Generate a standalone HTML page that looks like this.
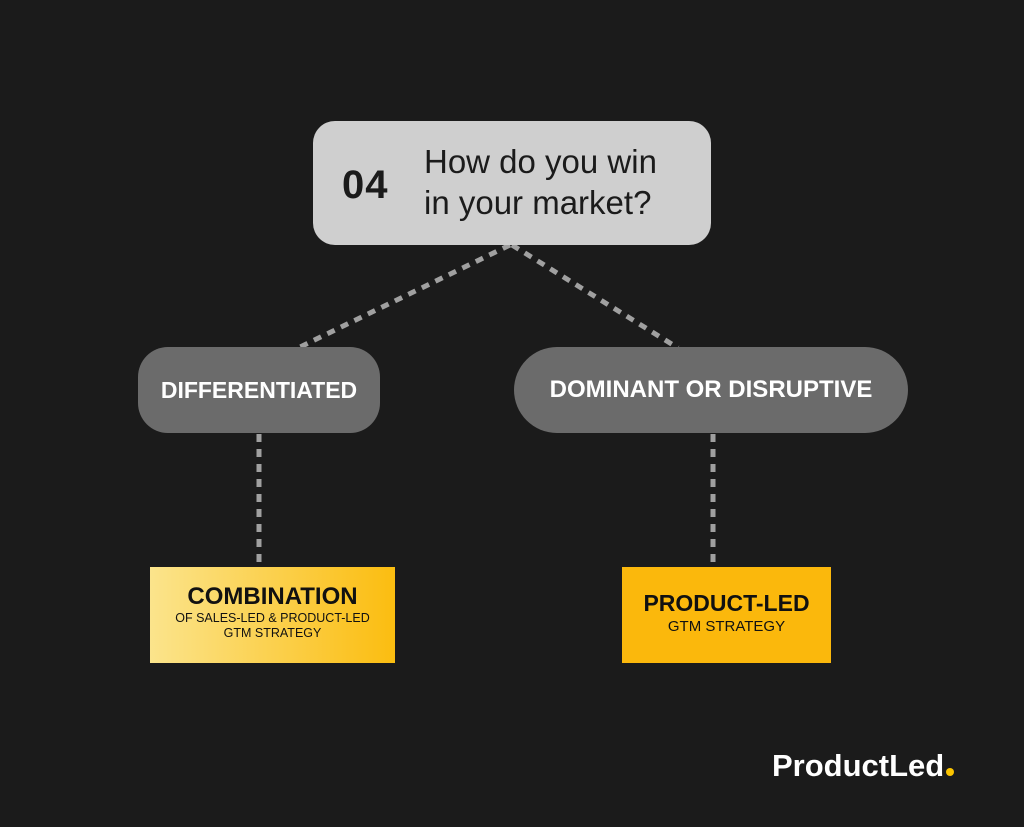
<!DOCTYPE html>
<html><head><style>
body{margin:0;width:1024px;height:827px;background:#1b1b1b;position:relative;overflow:hidden;font-family:"Liberation Sans","DejaVu Sans",sans-serif}
.a{position:absolute;box-sizing:border-box}
</style></head><body>
<svg class="a" style="left:0;top:0" width="1024" height="827">
<g stroke="#a0a0a0" stroke-width="5" stroke-dasharray="8,7" fill="none">
<line x1="510" y1="245" x2="298" y2="348"/>
<line x1="512" y1="245" x2="678" y2="348"/>
<line x1="259" y1="434" x2="259" y2="566"/>
<line x1="713" y1="434" x2="713" y2="566"/>
</g></svg>
<div class="a" style="left:313px;top:121px;width:398px;height:124px;background:#cfcfcf;border-radius:22px"></div>
<div class="a" style="left:342px;top:163px;font-size:40px;font-weight:bold;color:#1b1b1b;letter-spacing:1px">04</div>
<div class="a" style="left:424px;top:141px;font-size:33px;line-height:41px;color:#1b1b1b">How do you win<br>in your market?</div>
<div class="a" style="left:138px;top:347px;width:242px;height:86px;background:#6b6b6b;border-radius:30px;color:#fff;font-weight:bold;font-size:23px;display:flex;align-items:center;justify-content:center">DIFFERENTIATED</div>
<div class="a" style="left:514px;top:347px;width:394px;height:86px;background:#6b6b6b;border-radius:43px;color:#fff;font-weight:bold;font-size:24px;display:flex;align-items:center;justify-content:center">DOMINANT OR DISRUPTIVE</div>
<div class="a" style="left:150px;top:567px;width:245px;height:96px;background:linear-gradient(90deg,#fbe48c,#fbbd10);text-align:center;color:#111">
<div style="font-weight:bold;font-size:24px;margin-top:16px;line-height:28px">COMBINATION</div>
<div style="font-size:12.5px;line-height:15px">OF SALES-LED &amp; PRODUCT-LED<br>GTM STRATEGY</div></div>
<div class="a" style="left:622px;top:567px;width:209px;height:96px;background:#fbb80c;text-align:center;color:#111">
<div style="font-weight:bold;font-size:23px;margin-top:22px;line-height:28px">PRODUCT-LED</div>
<div style="font-size:15px;line-height:20px">GTM STRATEGY</div></div>
<div class="a" style="left:772px;top:748px;font-size:31px;font-weight:bold;color:#fff;letter-spacing:0px">ProductLed<span style="display:inline-block;width:8px;height:8px;border-radius:50%;background:#fbc400;margin-left:2px"></span></div>
</body></html>
